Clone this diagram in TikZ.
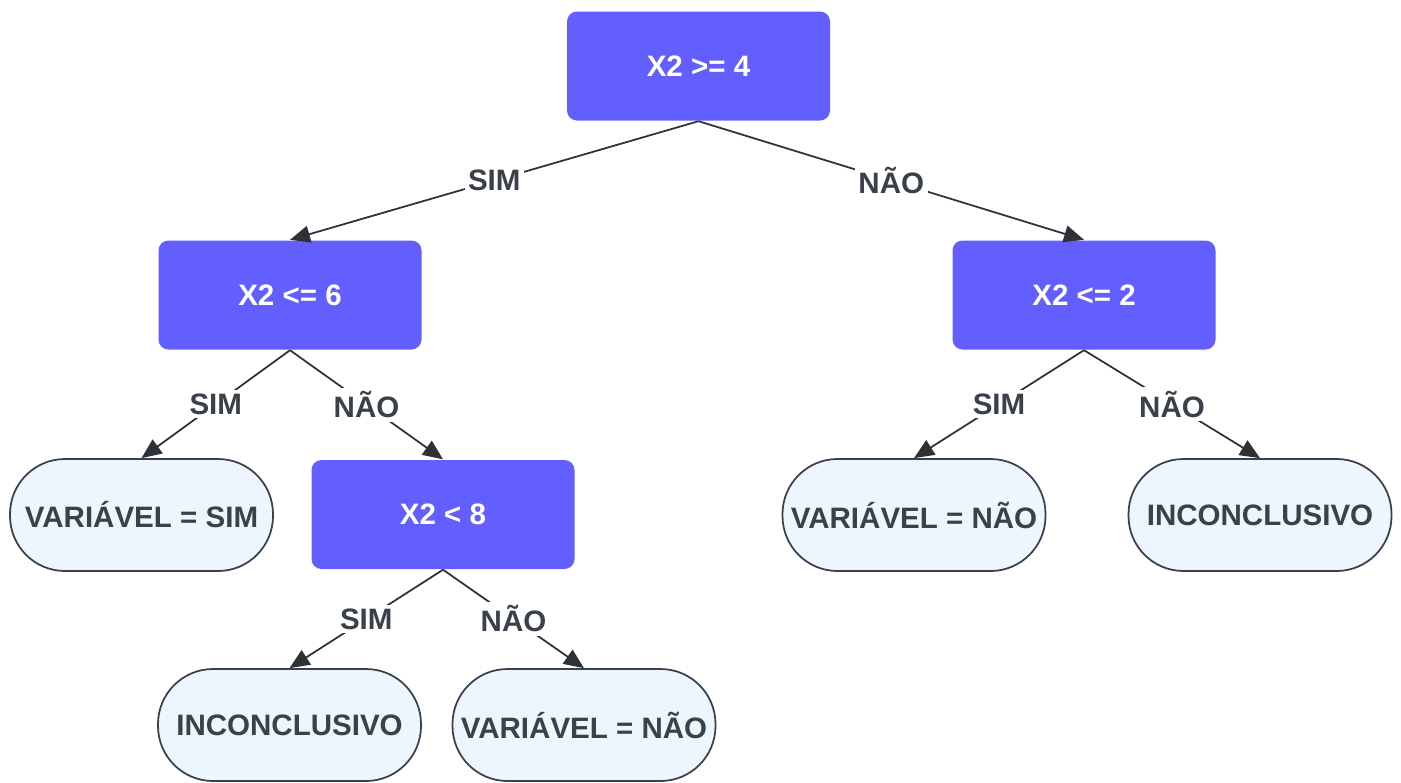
\documentclass[tikz,border=0pt]{standalone}
\usepackage{fontspec}
\setmainfont{Liberation Sans}
\usepackage{xcolor}
\definecolor{testFill}{HTML}{635FFF}
\definecolor{leafFill}{HTML}{EDF5FF}
\definecolor{inkGray}{HTML}{3A414A}
\definecolor{edgeGray}{HTML}{2E3238}
\usetikzlibrary{arrows.meta}

\tikzset{
  testbox/.style={rectangle, rounded corners=0.1cm, fill=testFill, draw=none,
    minimum width=2.63cm, minimum height=1.09cm, text=white,
    font=\fontsize{8.4}{10}\selectfont\bfseries},
  leafbox/.style={rectangle, rounded corners=0.55cm, fill=leafFill, draw=inkGray,
    line width=0.5pt, minimum width=2.63cm, minimum height=1.12cm, text=inkGray,
    inner xsep=1pt, font=\fontsize{8.4}{10}\selectfont\bfseries},
  branch/.style={draw=edgeGray, line width=0.5pt,
    -{Triangle[length=0.2cm,width=0.17cm]}},
  answer/.style={fill=white, inner sep=1pt, text=inkGray,
    font=\fontsize{8.4}{10}\selectfont\bfseries}
}

\begin{document}
\begin{tikzpicture}
  \useasboundingbox (0cm,0cm) rectangle (14.01cm,-7.82cm);
  % decision nodes
  \node[testbox] (root) at (6.985cm,-0.66cm) {X2 >= 4};
  \node[testbox] (left) at (2.90cm,-2.95cm) {X2 <= 6};
  \node[testbox] (right) at (10.84cm,-2.95cm) {X2 <= 2};
  \node[testbox] (mid) at (4.43cm,-5.145cm) {X2 < 8};
  % leaves
  \node[leafbox] (leafA) at (1.415cm,-5.15cm) {VARIÁVEL = SIM};
  \node[leafbox] (leafB) at (9.14cm,-5.15cm) {VARIÁVEL = NÃO};
  \node[leafbox] (leafC) at (12.60cm,-5.15cm) {INCONCLUSIVO};
  \node[leafbox] (leafD) at (2.895cm,-7.25cm) {INCONCLUSIVO};
  \node[leafbox] (leafE) at (5.84cm,-7.25cm) {VARIÁVEL = NÃO};
  % branches
  \draw[branch] (root.south) -- node[answer] {SIM} (left.north);
  \draw[branch] (root.south) -- node[answer] {NÃO} (right.north);
  \draw[branch] (left.south) -- node[answer] {SIM} (leafA.north);
  \draw[branch] (left.south) -- node[answer] {NÃO} (mid.north);
  \draw[branch] (right.south) -- node[answer] {SIM} (leafB.north);
  \draw[branch] (right.south) -- node[answer] {NÃO} (leafC.north);
  \draw[branch] (mid.south) -- node[answer] {SIM} (leafD.north);
  \draw[branch] (mid.south) -- node[answer] {NÃO} (leafE.north);
\end{tikzpicture}
\end{document}
